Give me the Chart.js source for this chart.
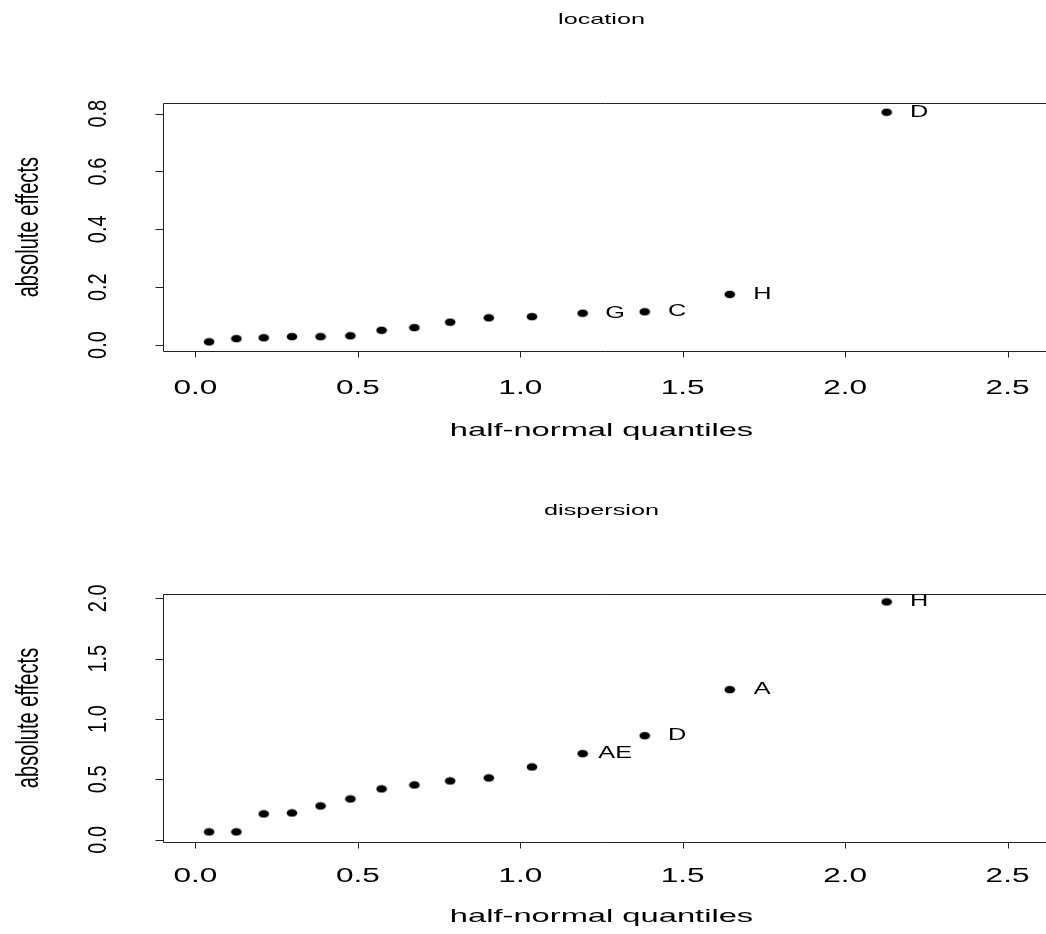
<!DOCTYPE html>
<html>
<head>
<meta charset="utf-8">
<script src="https://cdn.jsdelivr.net/npm/chart.js@4"></script>
<style>
  html, body { margin: 0; padding: 0; background: #fff; }
  #wrap { position: relative; width: 1046px; height: 934px; overflow: hidden; }
  canvas { position: absolute; left: 0; }
</style>
</head>
<body>
<div id="wrap">
  <canvas id="locationChart" width="1046" height="467" style="top:0;width:1046px;height:467px"></canvas>
  <canvas id="dispersionChart" width="1046" height="467" style="top:467px;width:1046px;height:467px"></canvas>
</div>
<script>
// half-normal quantiles (x) shared by both panels
const quantiles = [0.042, 0.126, 0.210, 0.297, 0.385, 0.477, 0.573, 0.674, 0.784, 0.903, 1.036, 1.192, 1.383, 1.645, 2.128];

// absolute effects
const locationEffects = [0.011, 0.022, 0.025, 0.029, 0.029, 0.032, 0.051, 0.060, 0.079, 0.094, 0.098, 0.110, 0.115, 0.175, 0.805];
const dispersionEffects = [0.065, 0.065, 0.214, 0.222, 0.280, 0.338, 0.421, 0.454, 0.487, 0.512, 0.603, 0.713, 0.862, 1.243, 1.970];

// labels of the largest effects
const locationLabels = ['', '', '', '', '', '', '', '', '', '', '', 'G', 'C', 'H', 'D'];
const dispersionLabels = ['', '', '', '', '', '', '', '', '', '', '', 'AE', 'D', 'A', 'H'];

const xTicks = [0, 0.5, 1, 1.5, 2, 2.5];
const locationYTicks = [0, 0.2, 0.4, 0.6, 0.8];
const dispersionYTicks = [0, 0.5, 1, 1.5, 2];

const FONT = '"Liberation Sans", Arial, Helvetica, sans-serif';
const LINE = '#222';

// filled dot, a bit wider than tall like in the picture
function makeDot() {
    const c = document.createElement('canvas');
    c.width = 12; c.height = 9;
    const g = c.getContext('2d');
    g.fillStyle = '#000';
    g.beginPath();
    g.ellipse(6, 4.5, 5.3, 3.8, 0, 0, Math.PI * 2);
    g.fill();
    return c;
}
const dot = makeDot();

// text helper: sx stretches along the text, sy across it
function put(ctx, text, x, y, size, sx, sy, rotated) {
    ctx.save();
    ctx.translate(x, y);
    if (rotated) ctx.rotate(-Math.PI / 2);
    ctx.scale(sx, sy);
    ctx.font = size + 'px ' + FONT;
    ctx.fillStyle = '#000';
    ctx.textAlign = 'center';
    ctx.textBaseline = 'middle';
    ctx.fillText(text, 0, 0);
    ctx.restore();
}

function decorPlugin(title, yTicks, labels, values, gaps) {
    return {
        id: 'decor',
        afterDatasetsDraw(chart) {
            const ctx = chart.ctx;
            const a = chart.chartArea;
            const xs = chart.scales.x, ys = chart.scales.y;
            const L = Math.round(a.left) + 0.5, T = Math.round(a.top) + 0.5, B = Math.round(a.bottom) + 0.5;

            ctx.save();
            ctx.strokeStyle = LINE;
            ctx.lineWidth = 1;
            // box (right edge falls just outside the picture)
            ctx.beginPath();
            ctx.moveTo(chart.width + 2, T); ctx.lineTo(L, T); ctx.lineTo(L, B); ctx.lineTo(chart.width + 2, B);
            ctx.stroke();
            // x ticks
            ctx.beginPath();
            xTicks.forEach(v => {
                const px = Math.round(xs.getPixelForValue(v)) + 0.5;
                ctx.moveTo(px, B); ctx.lineTo(px, B + 6);
            });
            // y ticks
            yTicks.forEach(v => {
                const py = Math.round(ys.getPixelForValue(v)) + 0.5;
                ctx.moveTo(L, py); ctx.lineTo(L - 8, py);
            });
            ctx.stroke();
            ctx.restore();

            xTicks.forEach(v => put(ctx, v.toFixed(1), xs.getPixelForValue(v), a.bottom + gaps.ticks, 19.5, 1.62, 1, false));
            yTicks.forEach(v => put(ctx, v.toFixed(1), 99, ys.getPixelForValue(v), 25, 0.8, 1.06, true));

            put(ctx, 'half-normal quantiles', (a.left + a.right) / 2, a.bottom + gaps.xtitle, 19, 1.72, 1, false);
            put(ctx, 'absolute effects', 30, (a.top + a.bottom) / 2, 20.5, 0.98, 1.5, true);
            put(ctx, title, (a.left + a.right) / 2, a.top - gaps.title, 15, 1.68, 1, false);

            // point labels, centred 0.1 to the right of their point
            labels.forEach((lab, i) => {
                if (!lab) return;
                put(ctx, lab, xs.getPixelForValue(quantiles[i] + 0.1), ys.getPixelForValue(values[i]), 16, 1.58, 1, false);
            });
        }
    };
}

function makePanel(id, title, values, labels, yMin, yMax, yTicks, pad, gaps) {
    const ctx = document.getElementById(id).getContext('2d');
    return new Chart(ctx, {
        type: 'scatter',
        data: {
            datasets: [{
                data: quantiles.map((q, i) => ({ x: q, y: values[i] })),
                pointStyle: dot,
                pointRadius: 5,
                backgroundColor: '#000',
                borderColor: '#000'
            }]
        },
        options: {
            responsive: false,
            animation: false,
            events: [],
            layout: { padding: pad },
            scales: {
                x: { type: 'linear', display: false, min: -0.1, max: 2.6 },
                y: { type: 'linear', display: false, min: yMin, max: yMax }
            },
            plugins: {
                legend: { display: false },
                tooltip: { enabled: false }
            }
        },
        plugins: [decorPlugin(title, yTicks, labels, values, gaps)]
    });
}

makePanel('locationChart', 'location', locationEffects, locationLabels,
    -0.0207, 0.8358, locationYTicks, { left: 163, right: 0, top: 103.3, bottom: 116 },
    { ticks: 38, xtitle: 80, title: 83 });
makePanel('dispersionChart', 'dispersion', dispersionEffects, dispersionLabels,
    -0.016, 2.033, dispersionYTicks, { left: 163, right: 0, top: 127.3, bottom: 92.3 },
    { ticks: 35, xtitle: 75, title: 83 });
</script>
</body>
</html>
